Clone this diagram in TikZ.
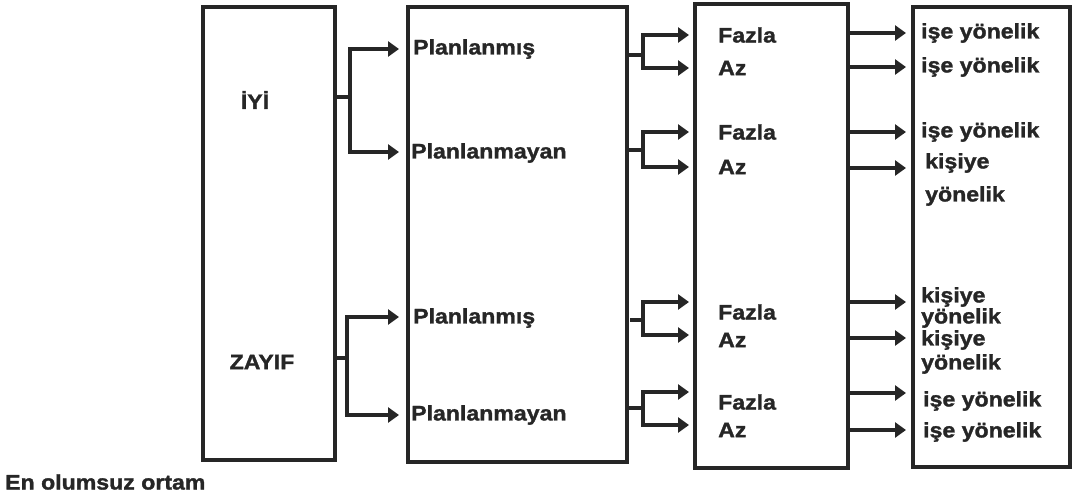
\documentclass[tikz,border=0pt]{standalone}
\usepackage{fontspec}
\setmainfont{Liberation Sans}[FakeStretch=1.1,FakeBold=1.5]
\usetikzlibrary{arrows.meta}
\definecolor{ink}{HTML}{262626}
\tikzset{
  x=1pt,y=-1pt,
  box/.style={draw=ink,line width=3.6pt,minimum width=#1,inner sep=0pt},
  lbl/.style={anchor=west,inner sep=0pt,text=ink,font=\fontsize{21}{22}\selectfont\bfseries},
  conn/.style={draw=ink,line width=3.4pt},
  arr/.style={conn,-{Triangle[length=11pt,width=15pt,fill=ink]}},
}
\begin{document}
\begin{tikzpicture}
\useasboundingbox (0,0) rectangle (1072,499);
% boxes
\node[box=132pt,minimum height=453pt] (b1) at (269,233.5) {};
\node[box=219pt,minimum height=455pt] (b2) at (517.5,234.5) {};
\node[box=153pt,minimum height=464pt] (b3) at (771.5,236) {};
\node[box=157pt,minimum height=460pt] (b4) at (991.5,237) {};
% box 1 texts
\node[lbl,anchor=center] (iyi) at (255,100) {İYİ};
\node[lbl,anchor=center] (zayif) at (262,362) {ZAYIF};
% box 2 texts
\node[lbl] (p1) at (413,49) {Planlanmış};
\node[lbl] (p2) at (411,153) {Planlanmayan};
\node[lbl] (p3) at (413,318) {Planlanmış};
\node[lbl] (p4) at (411,415) {Planlanmayan};
% box 3 texts
\node[lbl] (f1) at (718,35) {Fazla};
\node[lbl] (a1) at (718,68) {Az};
\node[lbl] (f2) at (718,132) {Fazla};
\node[lbl] (a2) at (718,167) {Az};
\node[lbl] (f3) at (718,312) {Fazla};
\node[lbl] (a3) at (718,340) {Az};
\node[lbl] (f4) at (718,402) {Fazla};
\node[lbl] (a4) at (718,430) {Az};
% box 4 texts
\node[lbl] (y1) at (921,33) {işe yönelik};
\node[lbl] (y2) at (921,67) {işe yönelik};
\node[lbl] (y3) at (921,132) {işe yönelik};
\node[lbl] (y4) at (925,163) {kişiye};
\node[lbl] (y4b) at (925,196) {yönelik};
\node[lbl] (y5) at (921,297) {kişiye};
\node[lbl] (y5b) at (921,318) {yönelik};
\node[lbl] (y6) at (921,340) {kişiye};
\node[lbl] (y6b) at (921,364) {yönelik};
\node[lbl] (y7) at (923,401) {işe yönelik};
\node[lbl] (y8) at (923,432) {işe yönelik};
% footer
\node[lbl] (foot) at (5,482) {En olumsuz ortam};
% junction coordinates
\coordinate (j1) at (350,97);
\coordinate (j2) at (347,358);
\coordinate (k1) at (643,55);
\coordinate (k2) at (643,150);
\coordinate (k3) at (643,320);
\coordinate (k4) at (643,408);
% box1 -> box2
\draw[conn] (b1.east |- j1) -- (j1);
\draw[arr] (j1) |- (399,49) coordinate (e11);
\draw[arr] (j1) |- (399,152) coordinate (e12);
\draw[conn] (b1.east |- j2) -- (j2);
\draw[arr] (j2) |- (399,317) coordinate (e21);
\draw[arr] (j2) |- (399,415) coordinate (e22);
% box2 -> box3
\draw[conn] (b2.east |- k1) -- (k1);
\draw[arr] (k1) |- (689,35);
\draw[arr] (k1) |- (689,68);
\draw[conn] (b2.east |- k2) -- (k2);
\draw[arr] (k2) |- (689,132);
\draw[arr] (k2) |- (689,167);
\draw[conn] (630,320) -- (k3);
\draw[arr] (k3) |- (689,302);
\draw[arr] (k3) |- (689,335);
\draw[conn] (b2.east |- k4) -- (k4);
\draw[arr] (k4) |- (689,392);
\draw[arr] (k4) |- (689,425);
% box3 -> box4
\foreach \yy in {33,67,132,168,302,338,393,430}{
  \draw[arr] (b3.east |- 0,\yy) -- (906,\yy);
}
\end{tikzpicture}
\end{document}
